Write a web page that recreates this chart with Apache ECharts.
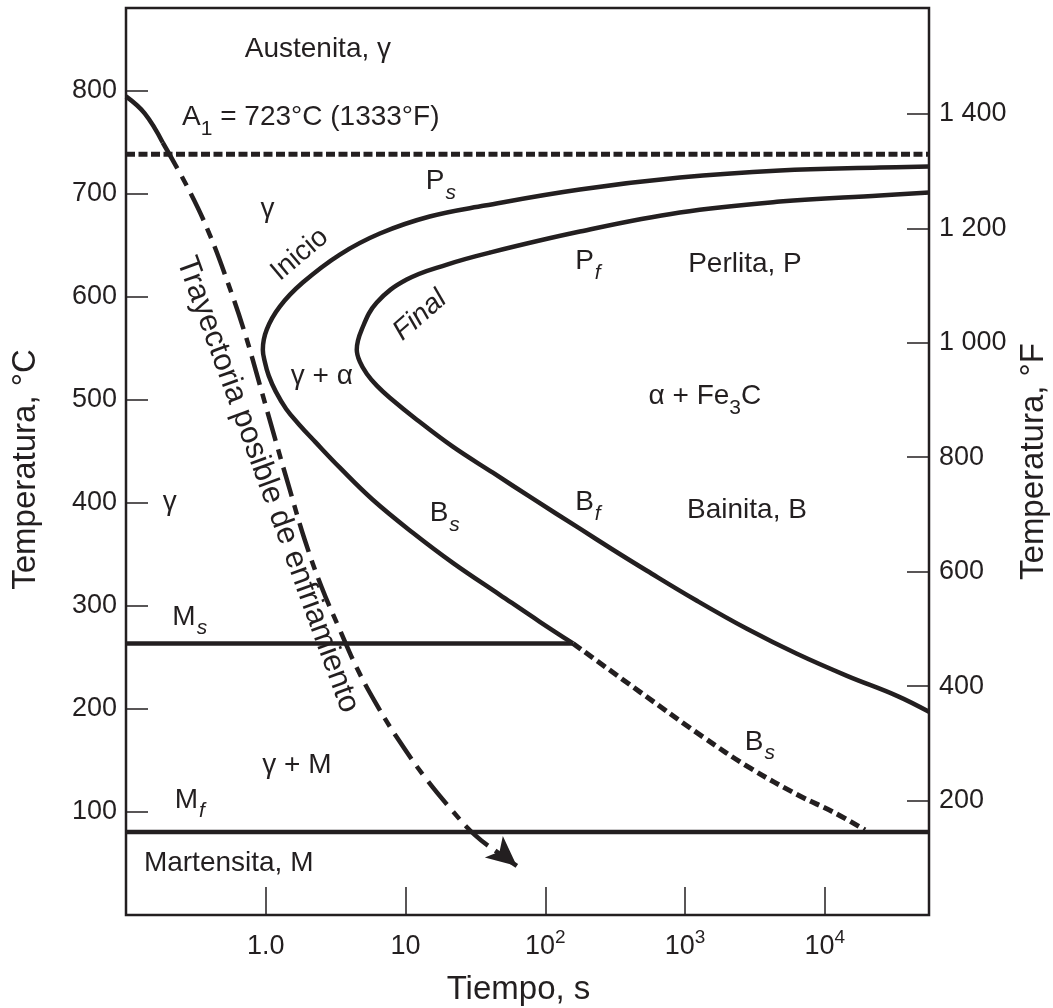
<!DOCTYPE html>
<html>
<head>
<meta charset="utf-8">
<script src="https://cdn.jsdelivr.net/npm/echarts@6/dist/echarts.min.js"></script>
<style>
html,body{margin:0;padding:0;background:#fff;}
#chart{width:1053px;height:1008px;}
</style>
</head>
<body>
<div id="chart"></div>
<script>
const FONT = '"Liberation Sans", Arial, Helvetica, sans-serif';
const INK = '#231f20';

// Axis ticks
const xTickValues = [1, 10, 100, 1000, 10000];
const xTickLabels = ['1.0', '10', '10{sup|2}', '10{sup|3}', '10{sup|4}'];
const leftTickLabels = ['', '100', '200', '300', '400', '500', '600', '700', '800'];
const rightTickLabels = ['', '200', '400', '600', '800', '1 000', '1 200', '1 400'];

// Curves: [time s, temperature °C]
const startCurveSolid = [[55700,726.2],[24830,725.2],[4775,722.3],[918,715.5],[177,703.9],[36.9,688.3],[14.9,677.7],[6.55,661.2],[3.39,640.8],[1.84,613.6],[1.26,590.3],[1.016,568.0],[0.953,548.5],[0.984,536.9],[1.05,523.3],[1.18,507.8],[1.40,491.0],[1.73,476.0],[2.26,459.0],[3.39,434.0],[5.83,402.9],[11.28,370.9],[21.8,341.7],[47.3,310.7],[91.4,284.5],[158,263.5]];
const startCurveDashed = [[158,263.5],[475,216.5],[1343,172.8],[2915,142.7],[6637,115.5],[11460,100.0],[19410,82.5]];
const finishCurve = [[55700,701.0],[24830,698.1],[4775,692.2],[918,681.6],[177,663.1],[40.1,642.7],[19.8,631.1],[10.2,616.5],[6.23,594.2],[4.86,568.0],[4.48,548.5],[4.71,536.9],[5.28,525.2],[6.23,513.6],[7.72,501.9],[12.05,480.6],[21.8,454.4],[42.2,429.1],[81.5,403.9],[177,374.8],[305,354.4],[534,334.0],[1217,304.9],[2774,277.7],[6320,253.4],[14420,232.0],[32880,212.6],[55700,197.1]];
const coolingSolid = [[0.1,794.2],[0.136,777.7],[0.183,749.5]];
const coolingDashed = [[0.183,749.5],[0.286,701.9],[0.397,660.2],[0.535,613.6],[0.707,565.0],[0.906,514.6],[1.16,463.1],[1.486,412.6],[1.90,364.1],[2.52,317.5],[3.39,276.7],[4.48,239.8],[6.23,203.9],[9.11,168.0],[13.7,134.0],[20.8,103.9],[31.3,77.7],[47.3,59.2],[62.6,47.6]];

// Horizontal lines
const timeRange = [0.1, 55700];
const A1Temp = 738;
const MsTemp = 263.5;
const MsEndTime = 158;
const MfTemp = 80.5;

// Region labels
const labelTexts = ['Austenita, γ','A{sub|1} = 723°C (1333°F)','γ','Inicio','P{isub|s}','P{isub|f}','Perlita, P','Final','γ + α','α + Fe{sub|3}C','γ','B{isub|s}','B{isub|f}','Bainita, B','M{isub|s}','γ + M','B{isub|s}','M{isub|f}','Martensita, M','Trayectoria posible de enfriamiento'];
const labelPositions = [[2.36,839.8],[2.10,773.8],[1.03,684.5],[1.75,640.8],[17.9,711.7],[202,634.0],[2685,631.1],[12.7,581.6],[2.52,522.3],[1388,502.9],[0.206,400],[19.1,389.3],[202,400],[2774,392.2],[0.286,289.3],[1.67,145.6],[3436,168],[0.286,111.7],[0.543,50.5],[1.03,417.5]];
const labelRotations = [0,0,0,40,0,0,0,41,0,0,0,0,0,0,0,0,0,0,0,-70];
const labelSizes = [28,28,28,28,28,28,28,28,28,28,28,28,28,28,28,28,28,28,28,31];
const labelItalic = [false,false,false,false,false,false,false,true,false,false,false,false,false,false,false,false,false,false,false,false];

const richSub = {
  sub: {fontSize: 21, fontFamily: FONT, color: INK, verticalAlign: 'top', lineHeight: 10, padding: [15, 0, 0, 0]},
  isub: {fontSize: 21, fontFamily: FONT, color: INK, fontStyle: 'italic', verticalAlign: 'top', lineHeight: 10, padding: [15, 0, 0, 1]}
};

const chart = echarts.init(document.getElementById('chart'), null, {renderer: 'canvas'});

const lineBase = (data, style, extra) => Object.assign({
  type: 'line', data: data, xAxisIndex: 0, yAxisIndex: 0,
  symbol: 'none', showSymbol: false, smooth: 0.4, animation: false, silent: true,
  lineStyle: Object.assign({color: INK, width: 4.5, cap: 'butt', join: 'round'}, style)
}, extra || {});

const coolingDashedData = coolingDashed.map((p, i) => i === coolingDashed.length - 1
  ? {value: p, symbol: 'arrow', symbolSize: [21, 30], symbolRotate: -130, itemStyle: {color: INK}}
  : {value: p});

const option = {
  animation: false,
  backgroundColor: '#fff',
  textStyle: {fontFamily: FONT, color: INK},
  grid: {left: 126, right: 124, top: 8, bottom: 93, show: true, borderColor: INK, borderWidth: 2.5,
    backgroundColor: 'transparent', containLabel: false, outerBoundsMode: 'none'},
  xAxis: {
    type: 'log', logBase: 10, min: timeRange[0], max: timeRange[1],
    axisLine: {show: false},
    axisTick: {show: true, inside: true, length: 28, lineStyle: {color: INK, width: 1.5}},
    splitLine: {show: false},
    axisLabel: {
      fontSize: 27, color: INK, fontFamily: FONT, margin: 18,
      formatter: function (v) {
        const i = xTickValues.findIndex(x => Math.abs(Math.log10(v / x)) < 0.01);
        return i < 0 ? '' : xTickLabels[i];
      },
      rich: {sup: {fontSize: 19, fontFamily: FONT, color: INK, verticalAlign: 'bottom', lineHeight: 10, padding: [0, 0, 13, 0]}}
    },
    name: 'Tiempo, s', nameLocation: 'middle', nameGap: 58,
    nameTextStyle: {fontSize: 33, color: INK, fontFamily: FONT, padding: [0, 18, 0, 0]}
  },
  yAxis: [{
    type: 'value', min: 0, max: 880, interval: 100, position: 'left',
    axisLine: {show: false},
    axisTick: {show: true, inside: true, length: 22, lineStyle: {color: INK, width: 1.5}},
    splitLine: {show: false},
    axisLabel: {fontSize: 27, color: INK, fontFamily: FONT, margin: 9,
      formatter: v => leftTickLabels[Math.round(v / 100)] || ''},
    name: 'Temperatura, °C', nameLocation: 'middle', nameGap: 84, nameRotate: 90,
    nameTextStyle: {fontSize: 33, color: INK, fontFamily: FONT, padding: [0, 16, 0, 0]}
  }, {
    type: 'value', min: 0, max: 1585, interval: 200, position: 'right',
    axisLine: {show: false},
    axisTick: {show: true, inside: true, length: 22, lineStyle: {color: INK, width: 1.5}},
    splitLine: {show: false},
    axisLabel: {fontSize: 27, color: INK, fontFamily: FONT, margin: 10,
      formatter: v => (v % 200 === 0 ? (rightTickLabels[v / 200] || '') : '')},
    name: 'Temperatura, °F', nameLocation: 'middle', nameGap: 87, nameRotate: 90,
    nameTextStyle: {fontSize: 33, color: INK, fontFamily: FONT}
  }],
  series: [
    lineBase([[timeRange[0], A1Temp], [timeRange[1], A1Temp]], {width: 5, type: [9, 3.5]}, {smooth: false}),
    lineBase([[timeRange[0], MsTemp], [MsEndTime, MsTemp]], {width: 4.5}, {smooth: false}),
    lineBase([[timeRange[0], MfTemp], [timeRange[1], MfTemp]], {width: 4.5}, {smooth: false}),
    lineBase(startCurveSolid, {}),
    lineBase(startCurveDashed, {width: 5, type: [10, 5]}),
    lineBase(finishCurve, {}),
    lineBase(coolingSolid, {}),
    lineBase(coolingDashedData, {type: [30, 9, 10, 9]}, {showSymbol: true}),
    {
      type: 'scatter', silent: true, animation: false, symbolSize: 1,
      itemStyle: {color: 'rgba(0,0,0,0)', opacity: 1},
      data: labelPositions.map((p, i) => ({
        value: p,
        label: {
          show: true, position: 'inside', formatter: labelTexts[i],
          rotate: labelRotations[i], fontStyle: labelItalic[i] ? 'italic' : 'normal',
          fontSize: labelSizes[i], color: INK, fontFamily: FONT, rich: richSub
        }
      }))
    }
  ]
};
chart.setOption(option);
</script>
</body>
</html>
